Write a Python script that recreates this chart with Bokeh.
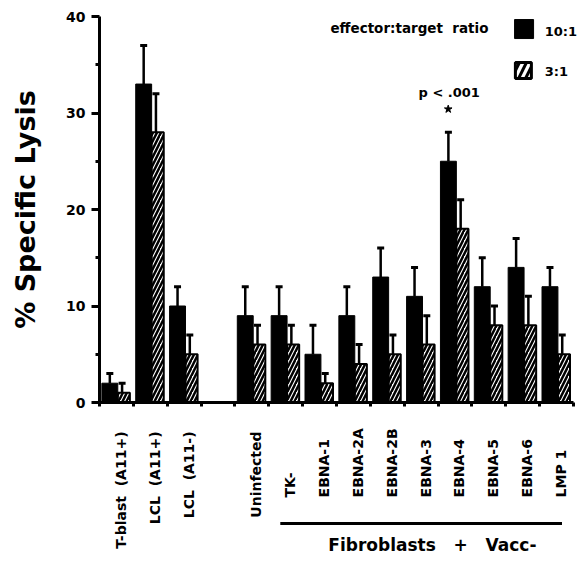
import math
from bokeh.plotting import figure
from bokeh.layouts import column
from bokeh.models import Range1d, FixedTicker
from bokeh.core.properties import value
from bokeh.embed import file_html
from bokeh.resources import INLINE

NB = "\u00a0"
# ---- data ----
categories = ["T-blast" + NB * 2 + "(A11+)", "LCL" + NB * 2 + "(A11+)",
              "LCL" + NB * 2 + "(A11-)", "", "Uninfected",
              "TK-", "EBNA-1", "EBNA-2A", "EBNA-2B", "EBNA-3", "EBNA-4",
              "EBNA-5", "EBNA-6", "LMP" + NB + "1"]
fibroblast_group = [False, False, False, False, False,
                    True, True, True, True, True, True, True, True, True]
lysis_10_1 = [2, 33, 10, None, 9, 9, 5, 9, 13, 11, 25, 12, 14, 12]
sem_10_1 = [1, 4, 2, None, 3, 3, 3, 3, 3, 3, 3, 3, 3, 2]
lysis_3_1 = [1, 28, 5, None, 6, 6, 2, 4, 5, 6, 18, 8, 8, 5]
sem_3_1 = [1, 4, 2, None, 2, 2, 1, 2, 2, 3, 3, 2, 3, 2]
y_ticks = [0, 10, 20, 30, 40]
y_minor = [5, 15, 25, 35]
group_caption = "Fibroblasts" + NB * 3 + "+" + NB * 3 + "Vacc-"
legend_title = "effector:target" + NB * 2 + "ratio"
legend_labels = ["10:1", "3:1"]
p_text = "p < .001"

FONT = "DejaVu Sans"
W = 579
LEFT = 99
N_SLOTS = len(categories)
X_END = N_SLOTS + 6 / 33.857  # a little room right of the last slot

p = figure(width=W, height=410, x_range=Range1d(0, X_END), y_range=Range1d(0, 40),
           output_backend="svg", toolbar_location=None,
           min_border_left=LEFT, min_border_right=0, min_border_top=16,
           min_border_bottom=8)
p.outline_line_color = None
p.grid.visible = False

# y axis
ya = p.yaxis[0]
ya.ticker = FixedTicker(ticks=y_ticks, minor_ticks=y_minor)
ya.axis_line_width = 3
ya.major_tick_out = 8
ya.major_tick_in = 0
ya.minor_tick_out = 4
ya.minor_tick_in = 0
ya.major_tick_line_width = 3
ya.minor_tick_line_width = 3
ya.major_label_text_font = FONT
ya.major_label_text_font_style = "bold"
ya.major_label_text_font_size = "14px"
ya.major_label_text_color = "black"
ya.major_label_standoff = 6
ya.axis_label = "% Specific Lysis"
ya.axis_label_text_font = FONT
ya.axis_label_text_font_style = "bold"
ya.axis_label_text_font_size = "27px"
ya.axis_label_text_color = "black"
ya.axis_label_standoff = 22

# x axis
xa = p.xaxis[0]
xa.ticker = FixedTicker(ticks=list(range(N_SLOTS + 1)))
xa.bounds = (0, N_SLOTS)
xa.axis_line_width = 3
xa.major_tick_out = 4
xa.major_tick_in = 0
xa.major_tick_line_width = 3
xa.minor_tick_line_color = None
xa.major_label_overrides = {i: "" for i in range(N_SLOTS + 1)}
xa.major_label_standoff = 0

# bars
slots = [i for i, v in enumerate(lysis_10_1) if v is not None]
BLACK_OFF, BLACK_W = 0.305, 0.47
HATCH_OFF, HATCH_W = 0.72, 0.355
HATCH_ERR_OFF = 0.667

xb = [i + BLACK_OFF for i in slots]
tb = [lysis_10_1[i] for i in slots]
eb = [lysis_10_1[i] + sem_10_1[i] for i in slots]
xh = [i + HATCH_OFF for i in slots]
xhe = [i + HATCH_ERR_OFF for i in slots]
th = [lysis_3_1[i] for i in slots]
eh = [lysis_3_1[i] + sem_3_1[i] for i in slots]

p.segment(x0=xb, y0=tb, x1=xb, y1=eb, line_color="black", line_width=2.5)
p.scatter(x=xb, y=eb, marker="dash", size=7, line_color="black", line_width=3)
p.segment(x0=xhe, y0=th, x1=xhe, y1=eh, line_color="black", line_width=2.5)
p.scatter(x=xhe, y=eh, marker="dash", size=7, line_color="black", line_width=3)

p.vbar(x=xb, width=BLACK_W, top=tb, bottom=0, fill_color="black", line_color="black")
p.vbar(x=xh, width=HATCH_W, top=th, bottom=0, fill_color="white", line_color="black",
       line_width=2, hatch_pattern="/", hatch_color="black", hatch_weight=2.5,
       hatch_scale=8)

# legend
p.text(x=[6.82], y=[38.86], text=[legend_title], text_font=value(FONT),
       text_font_style="bold", text_font_size="13.5px", text_align="left",
       text_baseline="middle", text_color="black")
p.scatter(x=[12.54], y=[38.7], marker="square", size=19, fill_color="black",
          line_color="black")
p.scatter(x=[12.52], y=[34.4], marker="square", size=16, fill_color="white",
          line_color="black", line_width=3, hatch_pattern="/", hatch_color="black",
          hatch_weight=3, hatch_scale=14)
p.text(x=[13.15, 13.15], y=[38.45, 34.3], text=legend_labels, text_font=value(FONT),
       text_font_style="bold", text_font_size="13px", text_align="left",
       text_baseline="middle", text_color="black")

# significance annotation
p.text(x=[10.33], y=[32.1], text=[p_text], text_font=value(FONT),
       text_font_style="bold", text_font_size="13px", text_align="center",
       text_baseline="middle", text_color="black")
p.scatter(x=[10.30], y=[30.4], marker="star", size=8, fill_color="black",
          line_color="black")

# ---- category labels panel (shares the x scale) ----
q = figure(width=W, height=151, x_range=p.x_range, y_range=Range1d(-16.48, -0.83),
           output_backend="svg", toolbar_location=None,
           x_axis_location=None, y_axis_location=None,
           min_border_left=LEFT, min_border_right=0, min_border_top=0,
           min_border_bottom=0)
q.outline_line_color = None
q.grid.visible = False

LABEL_OFF = 0.63
top_idx = [i for i, c in enumerate(categories) if c and not fibroblast_group[i]]
bot_idx = [i for i, c in enumerate(categories) if c and fibroblast_group[i]]
q.text(x=[i + LABEL_OFF for i in top_idx], y=[-3.0] * len(top_idx),
       text=[categories[i] for i in top_idx], angle=math.pi / 2,
       text_align="right", text_baseline="middle", text_font=value(FONT),
       text_font_style="bold", text_font_size="14px", text_color="black")
q.text(x=[i + LABEL_OFF for i in bot_idx], y=[-9.84] * len(bot_idx),
       text=[categories[i] for i in bot_idx], angle=math.pi / 2,
       text_align="left", text_baseline="middle", text_font=value(FONT),
       text_font_style="bold", text_font_size="14px", text_color="black")

x_line0 = bot_idx[0] + 0.34
x_line1 = bot_idx[-1] + 0.66
q.segment(x0=[x_line0], y0=[-12.54], x1=[x_line1], y1=[-12.54],
          line_color="black", line_width=3)
q.text(x=[x_line0 + 0.54 * (x_line1 - x_line0)], y=[-14.8], text=[group_caption],
       text_align="center", text_baseline="middle", text_font=value(FONT),
       text_font_style="bold", text_font_size="17px", text_color="black")

layout = column(p, q, spacing=0)
open("out.html", "w").write(file_html(layout, INLINE))
